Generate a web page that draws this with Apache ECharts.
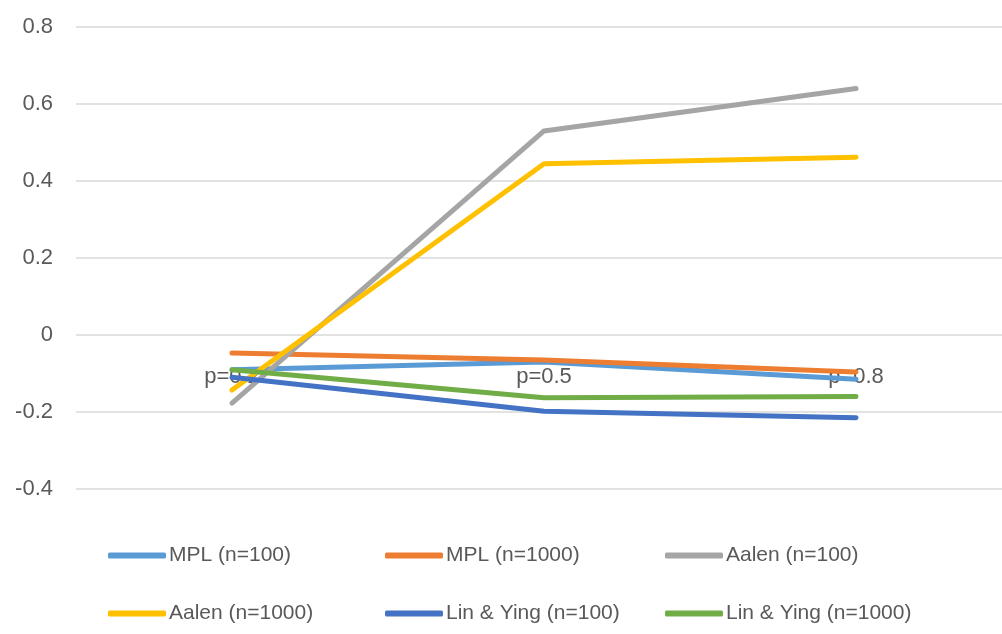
<!DOCTYPE html>
<html>
<head>
<meta charset="utf-8">
<script src="https://cdn.jsdelivr.net/npm/echarts@6/dist/echarts.min.js"></script>
<style>
  html, body { margin: 0; padding: 0; background: #fff; }
  #chart { width: 1002px; height: 634px; }
</style>
</head>
<body>
<div id="chart"></div>
<script>
// Bias of each estimator at three censoring proportions
const categories = ['p=0.2', 'p=0.5', 'p=0.8'];
const mpl100 = [-0.09, -0.07, -0.115];
const mpl1000 = [-0.047, -0.065, -0.096];
const aalen100 = [-0.177, 0.53, 0.64];
const aalen1000 = [-0.143, 0.445, 0.462];
const linYing100 = [-0.11, -0.198, -0.215];
const linYing1000 = [-0.09, -0.163, -0.16];
const yTicks = { min: -0.4, max: 0.8, step: 0.2 };

const seriesList = [
  { name: 'MPL (n=100)', data: mpl100, color: '#5B9BD5' },
  { name: 'MPL (n=1000)', data: mpl1000, color: '#ED7D31' },
  { name: 'Aalen (n=100)', data: aalen100, color: '#A5A5A5' },
  { name: 'Aalen (n=1000)', data: aalen1000, color: '#FFC000' },
  { name: 'Lin & Ying (n=100)', data: linYing100, color: '#4472C4' },
  { name: 'Lin & Ying (n=1000)', data: linYing1000, color: '#70AD47' }
];

const FONT = 'Liberation Sans';
const TEXT = '#595959';

// three legend columns, two rows
const legendCols = [103, 380, 660];
const legendRows = [540, 598];

const legends = seriesList.map((s, i) => ({
  data: [s.name],
  left: legendCols[i % 3],
  top: legendRows[Math.floor(i / 3)],
  icon: 'roundRect',
  itemWidth: 58,
  itemHeight: 6,
  itemGap: 0,
  textStyle: { fontFamily: FONT, fontSize: 21, color: TEXT, padding: [0, 0, 0, -2] },
  selectedMode: false
}));

const GRID_TOP = 27;
const GRID_HEIGHT = 462;
// category labels sit along the zero line, not at the bottom of the plot
const zeroOffset = -GRID_HEIGHT * (0 - yTicks.min) / (yTicks.max - yTicks.min);

const chart = echarts.init(document.getElementById('chart'), null, { renderer: 'canvas' });
chart.setOption({
  animation: false,
  backgroundColor: '#ffffff',
  grid: {
    left: 76, top: GRID_TOP, width: 936, height: GRID_HEIGHT,
    containLabel: false, outerBoundsMode: 'none'
  },
  xAxis: {
    type: 'category',
    data: categories,
    boundaryGap: true,
    offset: zeroOffset,
    axisLine: { show: false, onZero: false },
    axisTick: { show: false },
    axisLabel: { margin: 31, fontFamily: FONT, fontSize: 22, color: TEXT },
    splitLine: { show: false }
  },
  yAxis: {
    type: 'value',
    min: yTicks.min,
    max: yTicks.max,
    interval: yTicks.step,
    axisLine: { show: false },
    axisTick: { show: false },
    axisLabel: {
      margin: 23,
      fontFamily: FONT,
      fontSize: 22,
      color: TEXT,
      formatter: v => String(Math.round(v * 10) / 10)
    },
    splitLine: { lineStyle: { color: '#D9D9D9', width: 1.5 } }
  },
  legend: legends,
  series: seriesList.map(s => ({
    name: s.name,
    type: 'line',
    data: s.data,
    symbol: 'none',
    smooth: false,
    color: s.color,
    lineStyle: { width: 5, color: s.color, cap: 'round', join: 'round' },
    itemStyle: { color: s.color }
  }))
});
</script>
</body>
</html>
